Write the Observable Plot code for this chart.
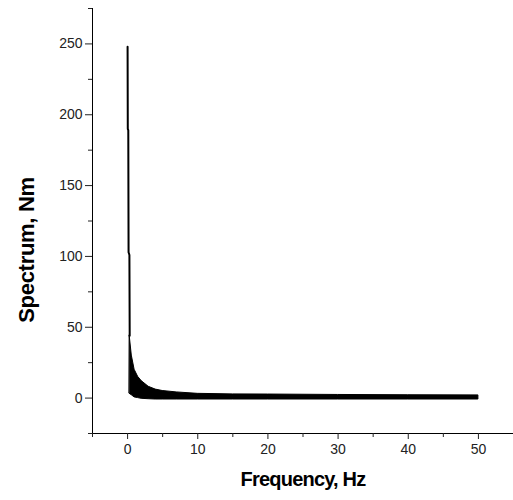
<!DOCTYPE html>
<html>
<head>
<meta charset="utf-8">
<script src="https://cdn.jsdelivr.net/npm/d3@7"></script>
<script src="https://cdn.jsdelivr.net/npm/@observablehq/plot@0.6"></script>
<style>
  html, body { margin: 0; padding: 0; background: #fff; }
  svg { display: block; }
</style>
</head>
<body>
<div id="chart"></div>
<script>
// Initial spike
const spikeFreq  = [0.00, 0.03, 0.10, 0.14, 0.26, 0.30];
const spikeValue = [248, 190, 189, 103, 101, 44];

// Dense oscillation band after the spike: upper and lower envelopes
const bandFreq  = [0.3, 0.6, 1.0, 1.5, 2.0, 3.0, 4.0, 5.0, 7.0, 10, 15, 20, 30, 40, 50];
const bandUpper = [44, 30, 20, 15, 12, 8, 6, 5, 4, 3, 2.6, 2.5, 2.2, 2.0, 1.9];
const bandLower = [3, 2, 0.5, 0, -0.5, -0.8, -1, -1, -1, -1, -1, -1, -1, -1, -1];

// Axis ticks
const xMajorTicks = [0, 10, 20, 30, 40, 50];
const xMinorTicks = [-5, 5, 15, 25, 35, 45, 55];
const yMajorTicks = [0, 50, 100, 150, 200, 250];
const yMinorTicks = [-25, 25, 75, 125, 175, 225, 275];

const xLabel = "Frequency, Hz";
const yLabel = "Spectrum, Nm";

const spike = spikeFreq.map((f, i) => ({f, v: spikeValue[i]}));
const band = bandFreq.map((f, i) => ({f, hi: bandUpper[i], lo: bandLower[i]}));

const chart = Plot.plot({
  width: 513,
  height: 500,
  marginLeft: 92,
  marginRight: 0,
  marginTop: 8,
  marginBottom: 67,
  x: {domain: [-5, 55]},
  y: {domain: [-25, 275]},
  style: {fontFamily: "'Liberation Sans', Arial, sans-serif", fontSize: "14px", color: "#222", background: "#fff"},
  marks: [
    Plot.ruleX([-5], {stroke: "#000", strokeWidth: 1}),
    Plot.ruleY([-25], {stroke: "#000", strokeWidth: 1}),
    Plot.axisX({ticks: xMajorTicks, tickSize: 6, tickPadding: 5, label: null, fontSize: 14}),
    Plot.axisX({ticks: xMinorTicks, tickSize: 4, tickFormat: () => "", label: null}),
    Plot.axisY({ticks: yMajorTicks, tickSize: 7, tickPadding: 3, label: null, fontSize: 14}),
    Plot.axisY({ticks: yMinorTicks, tickSize: 4, tickFormat: () => "", label: null}),
    Plot.areaY(band, {x: "f", y1: "lo", y2: "hi", fill: "#000", stroke: "#000", strokeWidth: 1}),
    Plot.lineY(spike, {x: "f", y: "v", stroke: "#000", strokeWidth: 2}),
    Plot.text([xLabel], {frameAnchor: "bottom", dy: 52, fontWeight: "bold", fontSize: 20, fill: "#000"}),
    Plot.text([yLabel], {frameAnchor: "left", textAnchor: "middle", dx: -66, dy: 29, rotate: -90, fontWeight: "bold", fontSize: 22, fill: "#000"})
  ]
});

d3.select(chart).selectAll("text").filter(function() {
  return this.textContent === xLabel;
}).style("letter-spacing", "-0.8px");
d3.select(chart).selectAll("text").filter(function() {
  return this.textContent === yLabel;
}).style("letter-spacing", "-0.3px");

document.getElementById("chart").appendChild(chart);
</script>
</body>
</html>
